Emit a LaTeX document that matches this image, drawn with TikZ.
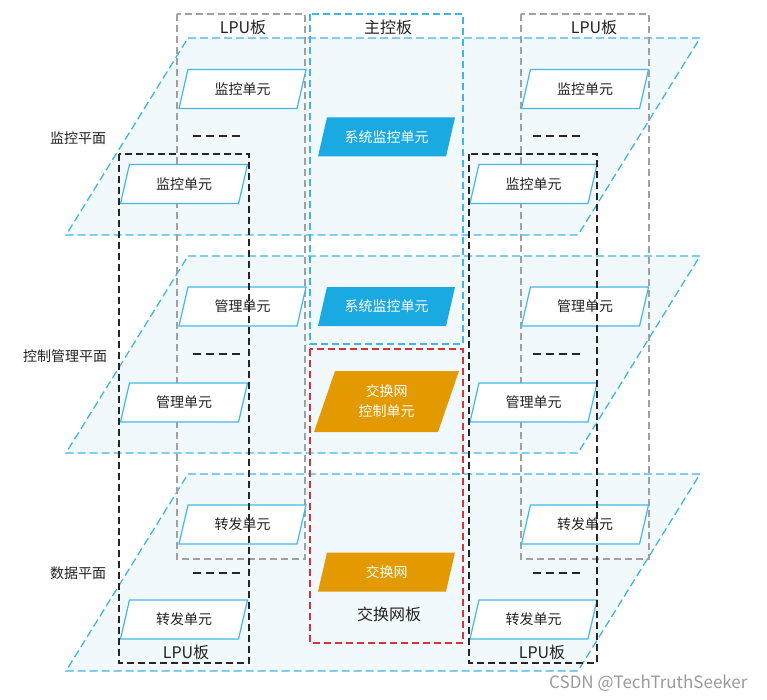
\documentclass[tikz,border=0pt]{standalone}
\usepackage{fontspec}
\setmainfont{Noto Sans CJK SC}
\usetikzlibrary{shapes.geometric}
\definecolor{PlaneFill}{HTML}{F2F9FC}
\definecolor{PlaneLine}{HTML}{3FB5E8}
\definecolor{UnitLine}{HTML}{45B7E6}
\definecolor{SysBlue}{HTML}{1AA9E0}
\definecolor{SwitchOrange}{HTML}{E29A00}
\definecolor{BackGray}{HTML}{A0A0A0}
\definecolor{FrontBlack}{HTML}{262626}
\definecolor{SwitchRed}{HTML}{D2343B}
\definecolor{Ink}{HTML}{222222}
\definecolor{Mark}{HTML}{9A9A9A}
\tikzset{plane/.style={draw=PlaneLine,fill=PlaneFill,line width=1.3pt,dash pattern=on 8pt off 4pt},unit/.style={trapezium,trapezium left angle=59,trapezium right angle=121,trapezium stretches body,draw=UnitLine,line width=1.2pt,fill=white,minimum height=39pt,minimum width=127pt,inner sep=1pt,align=center,text=Ink,font=\fontsize{14}{20}\selectfont},sysunit/.style={unit,draw=none,fill=SysBlue,text=white,minimum width=137pt},swunit/.style={unit,draw=none,fill=SwitchOrange,text=white,minimum width=137pt},backboard/.style={draw=BackGray,line width=1.2pt,dash pattern=on 7pt off 4pt},frontboard/.style={draw=FrontBlack,line width=1.2pt,dash pattern=on 7pt off 4pt},mainboard/.style={draw=PlaneLine,line width=1.2pt,dash pattern=on 7pt off 4pt},swboard/.style={draw=SwitchRed,line width=1.2pt,dash pattern=on 7pt off 4pt},moreline/.style={draw=FrontBlack,line width=1.2pt,dash pattern=on 8pt off 5pt},boardlabel/.style={text=Ink,font=\fontsize{16}{18}\selectfont},planelabel/.style={text=Ink,font=\fontsize{14}{16}\selectfont}}
\begin{document}
\begin{tikzpicture}[x=1pt,y=-1pt]
\fill[white] (0,0) rectangle (767,700);\useasboundingbox (0,0) rectangle (767,700);
\foreach \t in {38,256,474} \filldraw[plane] (188,\t)--(700,\t)--(578,{\t+197})--(66,{\t+197})--cycle;
\draw[backboard] (177,14) rectangle (305,559);\draw[backboard] (521,14) rectangle (649,559);
\draw[mainboard] (310,14) rectangle (463,344);\draw[swboard] (310,349) rectangle (463,643);
\node[boardlabel] (lpuBackL) at (243,27) {LPU板};\node[boardlabel] (main) at (388,27) {主控板};\node[boardlabel] (lpuBackR) at (594,27) {LPU板};
\node[planelabel] (monPlane) at (78,138) {监控平面};\node[planelabel] (ctlPlane) at (65,356) {控制管理平面};\node[planelabel] (dataPlane) at (78,573) {数据平面};
\foreach \n/\yb/\yf/\txt in {mon/89/184/监控单元,mgt/306.5/402.5/管理单元,fwd/524.5/619.5/转发单元}{
\node[unit] (\n-bl) at (242.5,\yb) {\txt};\node[unit] (\n-fl) at (184,\yf) {\txt};
\node[unit] (\n-br) at (585,\yb) {\txt};\node[unit] (\n-fr) at (533.5,\yf) {\txt};}
\foreach \y in {136,354,573}{\draw[moreline] (193,\y)--(240,\y);\draw[moreline] (533,\y)--(580,\y);}
\node[sysunit] (sysMon) at (386.5,137) {系统监控单元};\node[sysunit] (sysMgt) at (386.5,306.5) {系统监控单元};
\node[swunit,minimum height=61pt,minimum width=145pt] (swCtl) at (386.5,401.5) {交换网\\控制单元};\node[swunit] (sw) at (386.5,572) {交换网};
\node[boardlabel] (swBoard) at (389,614) {交换网板};
\draw[frontboard] (119,154) rectangle (249,663);\draw[frontboard] (469,154) rectangle (597,663);
\node[boardlabel] (lpuFrontL) at (186,652) {LPU板};\node[boardlabel] (lpuFrontR) at (542,652) {LPU板};
\node[anchor=east,text=Mark,font=\fontsize{17}{19}\selectfont] (mark) at (751,683) {CSDN @TechTruthSeeker};
\end{tikzpicture}
\end{document}
